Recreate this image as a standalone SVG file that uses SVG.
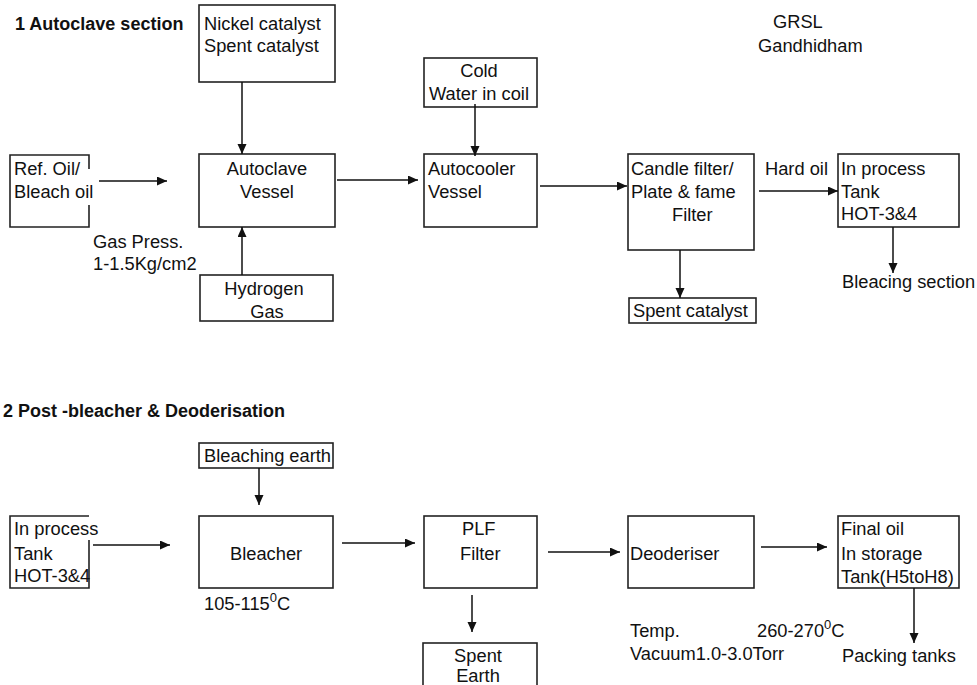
<svg xmlns="http://www.w3.org/2000/svg" width="977" height="685" viewBox="0 0 977 685">
<defs>
<marker id="ah" markerUnits="userSpaceOnUse" markerWidth="10" markerHeight="10" refX="10" refY="4.5" orient="auto">
<path d="M0,0 L10,4.5 L0,9 z" fill="#111"/>
</marker>
<style>
text{font-family:"Liberation Sans",Arial,sans-serif;font-size:18.3px;fill:#111}
.t{font-weight:bold;font-size:18px}
.m{text-anchor:middle}
.box{fill:none;stroke:#222;stroke-width:1.6}
.c line{stroke:#111;stroke-width:1.5;marker-end:url(#ah)}
.sup{font-size:13px}
</style>
</defs>
<rect width="977" height="685" fill="#fff"/>
<text class="t" x="15" y="30">1 Autoclave section</text>
<text class="t" x="3" y="417">2 Post -bleacher &amp; Deoderisation</text>
<g id="grsl"><text x="773" y="28">GRSL</text><text x="758" y="52">Gandhidham</text></g>
<g id="nickel"><rect class="box" x="199" y="5" width="136" height="77"/><text x="204" y="30">Nickel catalyst</text><text x="204" y="52">Spent catalyst</text></g>
<g id="refoil"><path class="box" d="M89,169 V155 H10 V227 H89 V205"/><text x="14" y="175">Ref. Oil/</text><text x="14" y="198">Bleach oil</text></g>
<g id="gaspress"><text x="93" y="248">Gas Press.</text><text x="93" y="270">1-1.5Kg/cm2</text></g>
<g id="autoclave"><rect class="box" x="199" y="154" width="136" height="73"/><text class="m" x="267" y="175">Autoclave</text><text class="m" x="267" y="198">Vessel</text></g>
<g id="hydrogen"><rect class="box" x="200" y="275" width="133" height="46"/><text class="m" x="264" y="295">Hydrogen</text><text class="m" x="267" y="318">Gas</text></g>
<g id="coldwater"><rect class="box" x="424" y="58" width="113" height="49"/><text class="m" x="479" y="77">Cold</text><text class="m" x="479" y="100">Water in coil</text></g>
<g id="autocooler"><rect class="box" x="424" y="154" width="113" height="73"/><text x="428" y="175">Autocooler</text><text x="428" y="198">Vessel</text></g>
<g id="candle"><rect class="box" x="628" y="154" width="126" height="96"/><text x="631" y="175">Candle filter/</text><text x="631" y="198">Plate &amp; fame</text><text x="672" y="221">Filter</text></g>
<g id="hardoil"><text x="765" y="175">Hard oil</text></g>
<g id="inprocess1"><rect class="box" x="838" y="154" width="121" height="73"/><text x="841" y="175">In process</text><text x="841" y="198">Tank</text><text x="841" y="220">HOT-3&amp;4</text></g>
<g id="bleacing"><text x="842" y="288">Bleacing section</text></g>
<g id="spentcat"><rect class="box" x="629" y="298" width="127" height="25"/><text x="633" y="317">Spent catalyst</text></g>
<g id="bleachearth"><rect class="box" x="199" y="443" width="134" height="25"/><text x="204" y="462">Bleaching earth</text></g>
<g id="inprocess2"><path class="box" d="M89,516 H10 V588 H89 V540"/><text x="14" y="535">In process</text><text x="14" y="560">Tank</text><text x="14" y="582">HOT-3&amp;4</text></g>
<g id="bleacher"><rect class="box" x="199" y="516" width="134" height="72"/><text x="230" y="560">Bleacher</text><text x="204" y="610">105-115<tspan class="sup" dy="-8">0</tspan><tspan dy="8">C</tspan></text></g>
<g id="plf"><rect class="box" x="424" y="516" width="113" height="72"/><text x="462" y="535">PLF</text><text x="460" y="560">Filter</text></g>
<g id="spentearth"><rect class="box" x="423" y="643" width="114" height="60"/><text class="m" x="478" y="662">Spent</text><text class="m" x="478" y="682">Earth</text></g>
<g id="deoderiser"><rect class="box" x="628" y="516" width="126" height="72"/><text x="630" y="560">Deoderiser</text><text x="630" y="637">Temp.</text><text x="757" y="637">260-270<tspan class="sup" dy="-8">0</tspan><tspan dy="8">C</tspan></text><text x="630" y="660">Vacuum1.0-3.0Torr</text></g>
<g id="finaloil"><rect class="box" x="838" y="516" width="121" height="72"/><text x="841" y="535">Final oil</text><text x="841" y="560">In storage</text><text x="841" y="583">Tank(H5toH8)</text></g>
<g id="packing"><text x="842" y="662">Packing tanks</text></g>
<g class="c" id="connectors">
<line x1="242" y1="82" x2="242" y2="154"/>
<line x1="99" y1="181" x2="167" y2="181"/>
<line x1="242" y1="275" x2="242" y2="227"/>
<line x1="475" y1="104" x2="475" y2="156"/>
<line x1="337" y1="180" x2="418" y2="180"/>
<line x1="540" y1="186" x2="627" y2="186"/>
<line x1="759" y1="191" x2="838" y2="191"/>
<line x1="893" y1="227" x2="893" y2="273"/>
<line x1="680" y1="250" x2="680" y2="298"/>
<line x1="259" y1="468" x2="259" y2="505"/>
<line x1="93" y1="545" x2="170" y2="545"/>
<line x1="342" y1="543" x2="415" y2="543"/>
<line x1="472" y1="595" x2="472" y2="632"/>
<line x1="548" y1="552" x2="620" y2="552"/>
<line x1="761" y1="547" x2="827" y2="547"/>
<line x1="914" y1="588" x2="914" y2="643"/>
</g>
</svg>
